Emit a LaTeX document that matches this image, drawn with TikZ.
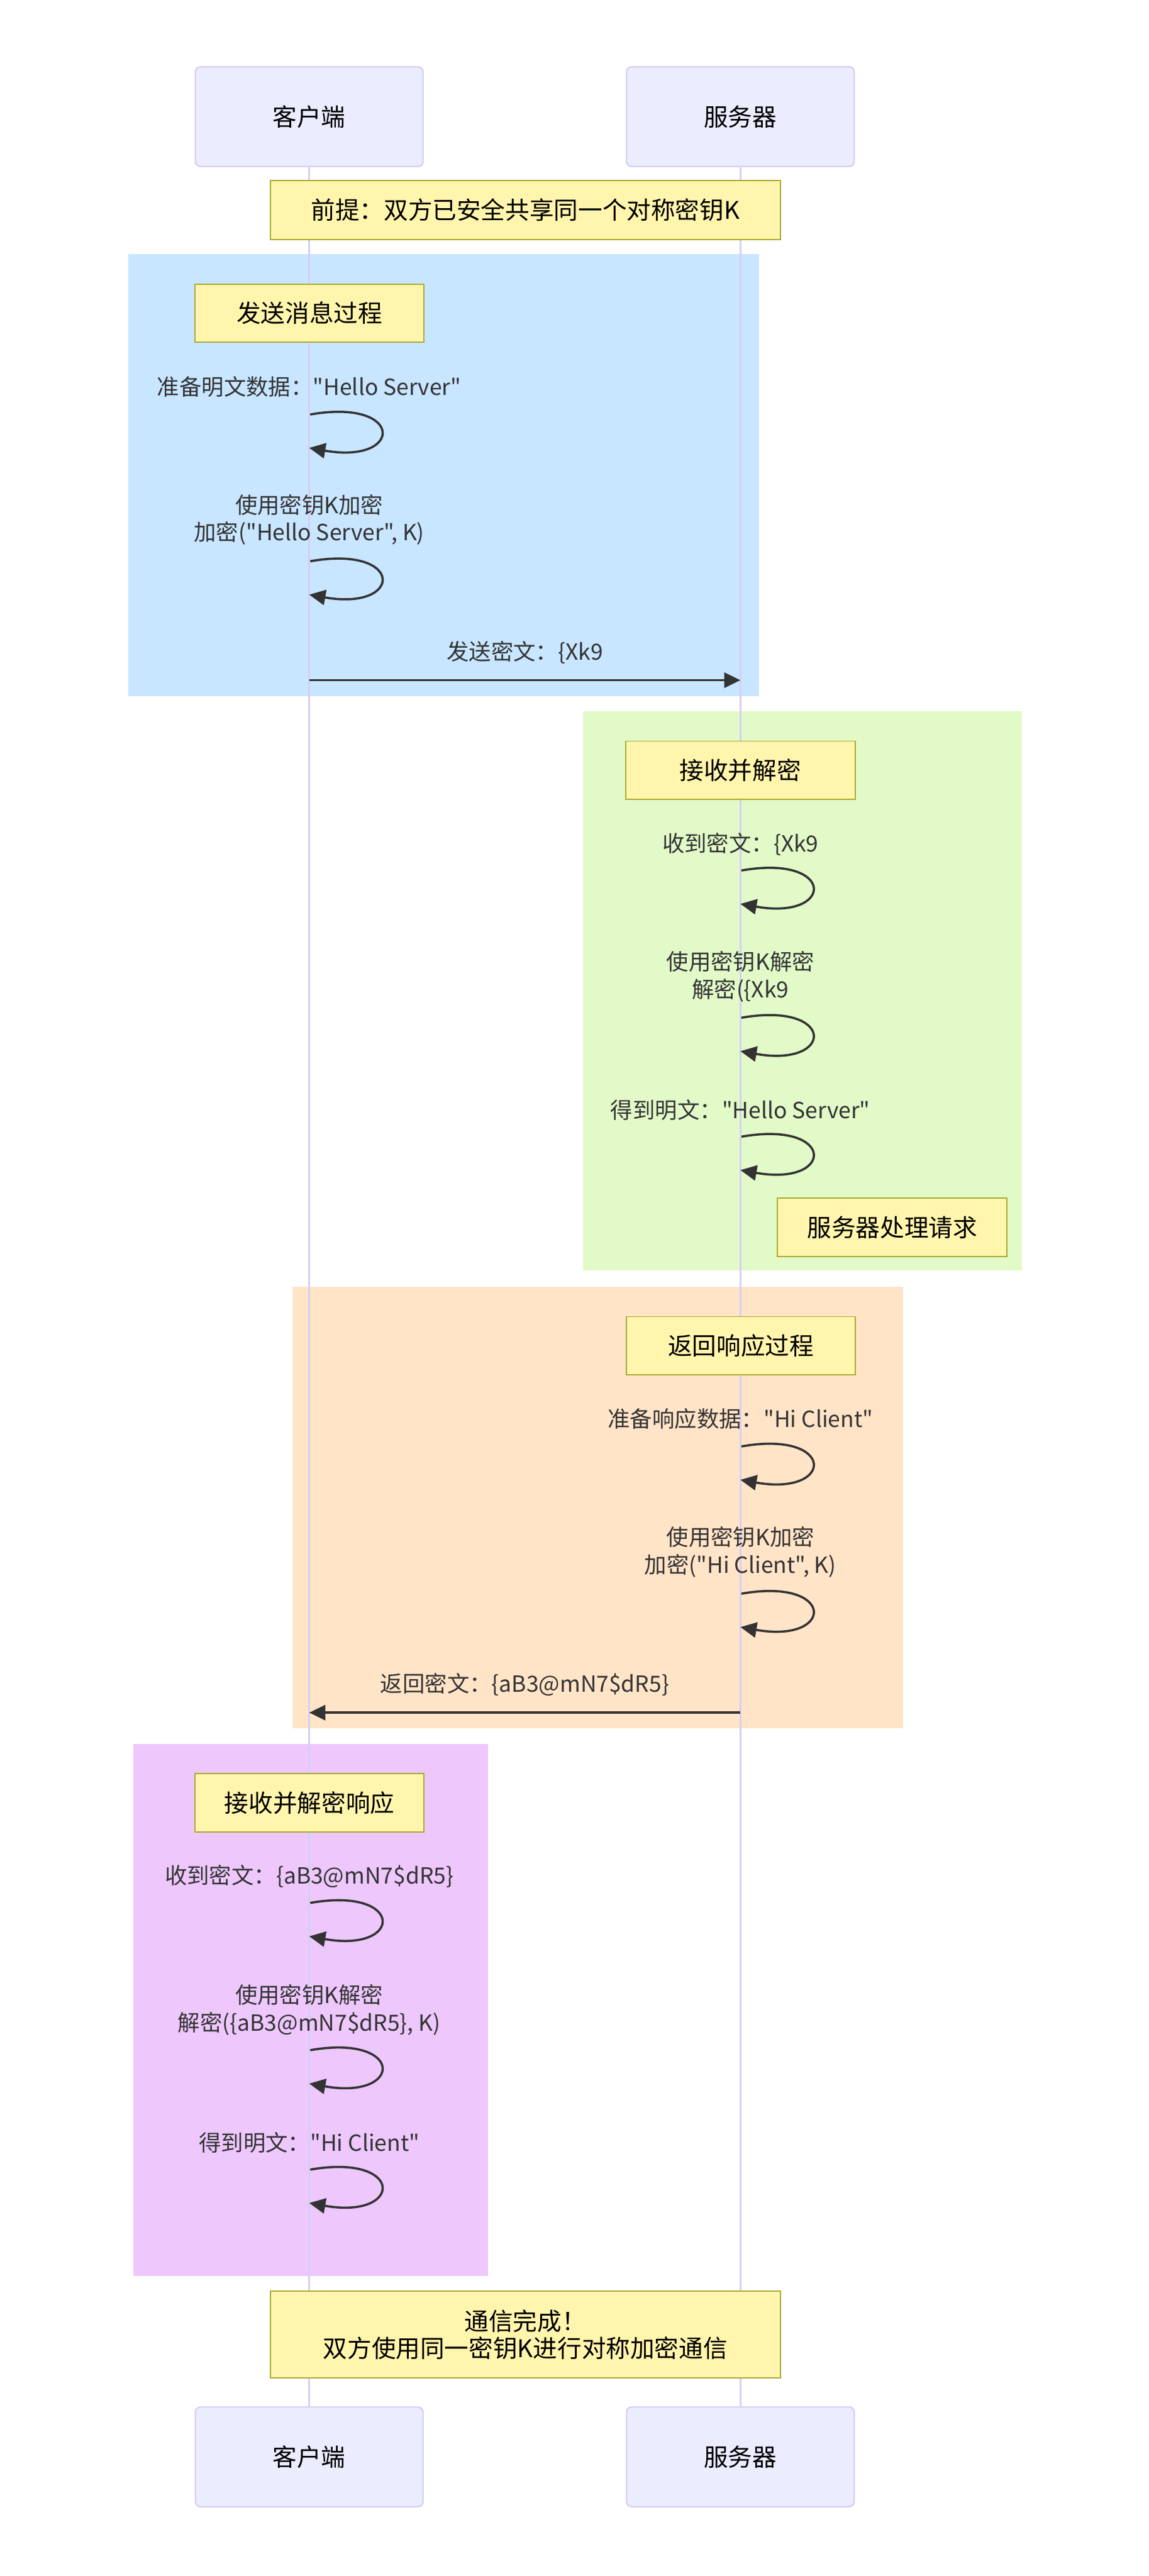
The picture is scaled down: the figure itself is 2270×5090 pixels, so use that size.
\documentclass[tikz,border=0pt]{standalone}
\usepackage{fontspec}
\setmainfont{Noto Sans CJK SC}[Ligatures=TeXReset]
\usetikzlibrary{arrows.meta}
\definecolor{actorfill}{HTML}{ECECFF}
\definecolor{actorline}{HTML}{D2C7F2}
\definecolor{lifecol}{HTML}{D7CEF5}
\definecolor{notefill}{HTML}{FFF5AD}
\definecolor{noteline}{HTML}{AAAA33}
\definecolor{msgcol}{HTML}{333333}
\definecolor{sendbg}{RGB}{200,230,255}
\definecolor{recvbg}{RGB}{226,250,200}
\definecolor{replybg}{RGB}{255,228,200}
\definecolor{donebg}{RGB}{238,200,252}

\begin{document}
\begin{tikzpicture}[x=0.25pt,y=-0.25pt,
	actor/.style={draw=actorline, fill=actorfill, line width=0.6pt, rounded corners=2.5pt,
		minimum width=112.5pt, minimum height=49.25pt, inner sep=0pt, font=\fontsize{12}{14}\selectfont},
	note/.style={draw=noteline, fill=notefill, line width=0.6pt, minimum width=113.25pt,
		minimum height=28.75pt, inner sep=0pt, align=center, font=\fontsize{12}{13.25}\selectfont},
	msgtext/.style={text=msgcol, inner sep=0pt, align=center, font=\fontsize{11}{13.6}\selectfont},
	msg/.style={draw=msgcol, line width=1.1pt, -{Triangle[length=8pt,width=7.5pt]}},
	lifeline/.style={draw=lifecol, line width=0.75pt}]
	\useasboundingbox (0,0) rectangle (2270,5090);
	\fill[white] (0,0) rectangle (2270,5090);
	
	% Phase backgrounds
	\fill[sendbg] (253,502) rectangle (1500,1375);
	\fill[recvbg] (1152,1406) rectangle (2019,2510);
	\fill[replybg] (578,2542) rectangle (1784,3415);
	\fill[donebg] (264,3446) rectangle (964,4497);
	
	% Actors
	\node[actor] (cTop) at (611,230.5) {客户端};
	\node[actor] (sTop) at (1463,230.5) {服务器};
	\node[actor] (cBot) at (611,4854.5) {客户端};
	\node[actor] (sBot) at (1463,4854.5) {服务器};
	
	% Lifelines
	\draw[lifeline] (cTop.south) -- (cBot.north);
	\draw[lifeline] (sTop.south) -- (sBot.north);
	
	% Notes
	\node[note, minimum width=252pt, minimum height=29pt] (pre) at (1038,415) {前提：双方已安全共享同一个对称密钥K};
	\node[note] (send) at (611.5,619) {发送消息过程};
	\node[note] (recv) at (1463,1522) {接收并解密};
	\node[note] (proc) at (1763,2425) {服务器处理请求};
	\node[note] (reply) at (1464,2659) {返回响应过程};
	\node[note] (recvR) at (611.5,3562) {接收并解密响应};
	\node[note, minimum width=252pt, minimum height=43pt] (done) at (1038,4613) {通信完成！\\双方使用同一密钥K进行对称加密通信};
	
	% Self messages
	\node[msgtext] (prep) at (611,764) {准备明文数据："Hello Server"};
	\node[msgtext] (enc) at (611,1027) {使用密钥K加密\\加密("Hello Server", K)};
	\node[msgtext] (got) at (1463,1668) {收到密文：\{Xk9};
	\node[msgtext] (dec) at (1463,1930) {使用密钥K解密\\解密(\{Xk9};
	\node[msgtext] (plain) at (1463,2193) {得到明文："Hello Server"};
	\node[msgtext] (prepR) at (1463,2804) {准备响应数据："Hi Client"};
	\node[msgtext] (encR) at (1463,3067) {使用密钥K加密\\加密("Hi Client", K)};
	\node[msgtext] (gotR) at (611,3708) {收到密文：\{aB3@mN7\$dR5\}};
	\node[msgtext] (decR) at (611,3971) {使用密钥K解密\\解密(\{aB3@mN7\$dR5\}, K)};
	\node[msgtext] (plainR) at (611,4234) {得到明文："Hi Client"};
	
	\foreach \n/\x/\y in {a/613/819, b/613/1109, c/1465/1720, d/1465/2011, e/1465/2246,
		f/1465/2858, g/1465/3149, h/613/3760, i/613/4051, j/613/4287} {
		\coordinate (s\n) at (\x,\y);
		\coordinate (e\n) at (\x-2,\y+66);
		\draw[msg] (s\n) .. controls +(187,-33) and +(187,33) .. (e\n);
	}
	
	% Messages between lifelines
	\coordinate (cOut) at (611,1344);
	\coordinate (sIn) at (1463,1344);
	\node[msgtext] (sendMsg) at (1037,1289) {发送密文：\{Xk9};
	\draw[msg] (cOut) -- (sIn);
	
	\coordinate (sOut) at (1463,3384);
	\coordinate (cIn) at (611,3384);
	\node[msgtext] (replyMsg) at (1037,3329) {返回密文：\{aB3@mN7\$dR5\}};
	\draw[msg] (sOut) -- (cIn);
\end{tikzpicture}
\end{document}
